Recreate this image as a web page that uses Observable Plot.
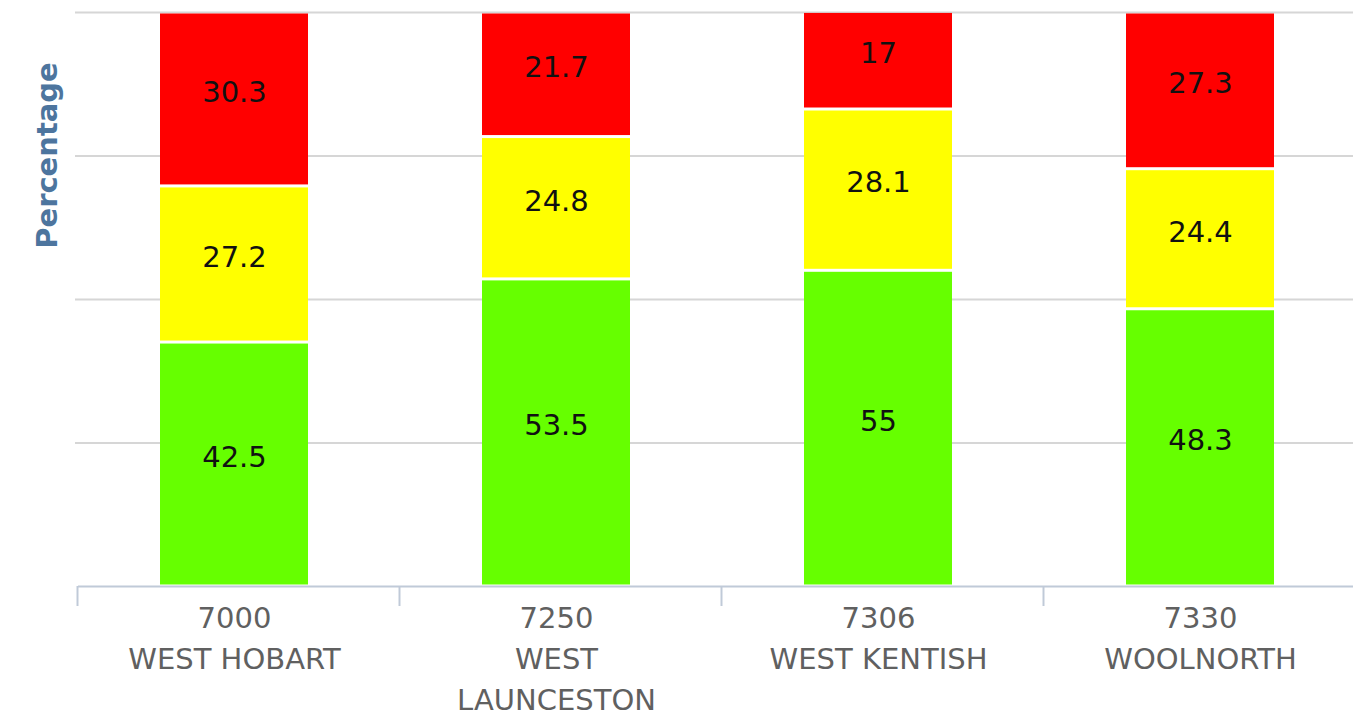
<!DOCTYPE html>
<html>
<head>
<meta charset="utf-8">
<script src="https://cdn.jsdelivr.net/npm/d3@7"></script>
<script src="https://cdn.jsdelivr.net/npm/@observablehq/plot@0.6"></script>
<style>
  html, body { margin: 0; padding: 0; background: #fff; }
  #chart svg { display: block; }
</style>
</head>
<body>
<div id="chart"></div>
<script>
// Postcodes / localities along the x axis
const postcodes = ["7000", "7250", "7306", "7330"];
const localities = ["WEST HOBART", "WEST\nLAUNCESTON", "WEST KENTISH", "WOOLNORTH"];

// Stacked percentage bands, bottom to top
const seriesNames = ["Good", "Fair", "Poor"];
const seriesColors = ["#66FF00", "#FFFF00", "#FF0000"];
const goodValues = [42.5, 53.5, 55, 48.3];
const fairValues = [27.2, 24.8, 28.1, 24.4];
const poorValues = [30.3, 21.7, 17, 27.3];

const gridValues = [0, 25, 50, 75, 100];

const seriesValues = [goodValues, fairValues, poorValues];
const rows = [];
seriesNames.forEach((s, si) => {
  postcodes.forEach((p, i) => {
    rows.push({postcode: p, series: s, value: seriesValues[si][i]});
  });
});

const font = "'DejaVu Sans', Verdana, sans-serif";

const chart = Plot.plot({
  width: 1353,
  height: 716,
  marginTop: 12,
  marginBottom: 130,
  marginLeft: 78,
  marginRight: 0,
  style: {fontFamily: font, background: "#fff"},
  x: {domain: postcodes, range: [73, 1362], paddingInner: 0.54, paddingOuter: 0.27, axis: null},
  y: {domain: [0, 100], axis: null},
  color: {domain: seriesNames, range: seriesColors},
  marks: [
    // horizontal grid
    Plot.ruleY(gridValues.filter(v => v > 0), {y: d => d, stroke: "#d6d6d6", strokeWidth: 2, insetLeft: -3}),
    // stacked bars
    Plot.barY(rows, {
      x: "postcode", y: "value", fill: "series", order: seriesNames,
      insetTop: 1.5, insetBottom: 1.5
    }),
    // x axis baseline
    Plot.ruleY([0], {stroke: "#c0cad8", strokeWidth: 2}),
    // tick marks between categories
    Plot.ruleX(postcodes, {
      x: d => d, dx: -157, y1: 0, y2: 0, insetBottom: -20,
      stroke: "#c0cad8", strokeWidth: 2
    }),
    // value labels inside each segment
    Plot.text(rows, Plot.stackY({
      x: "postcode", y: "value", z: "series", order: seriesNames,
      text: d => String(d.value),
      fill: "#111", fontSize: 29, dy: -7, fontFamily: font
    })),
    // category labels
    Plot.text(postcodes, {
      x: d => d, y: 0,
      text: (d, i) => d + "\n" + localities[i],
      lineAnchor: "top", dy: 13, lineHeight: 1.4,
      fontSize: 29, fill: "#606060", fontFamily: font
    }),
    // y axis title
    Plot.text(["Percentage"], {
      frameAnchor: "top-left", dx: -42, dy: 143, rotate: -90,
      textAnchor: "middle", fontSize: 29, fontWeight: "bold",
      fill: "#4d759e", fontFamily: font
    })
  ]
});

document.getElementById("chart").appendChild(chart);
</script>
</body>
</html>
